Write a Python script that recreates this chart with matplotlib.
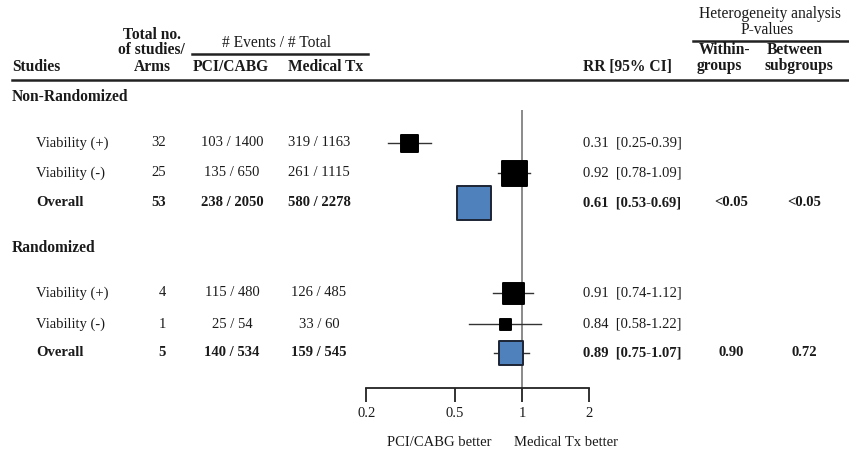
import numpy as np
import matplotlib
matplotlib.use('Agg')
import matplotlib.pyplot as plt

plt.rcParams['font.family'] = ['Liberation Serif', 'DejaVu Serif']

# data
labels = ['Viability (+)', 'Viability (-)', 'Overall',
          'Viability (+)', 'Viability (-)', 'Overall']
groups = ['Non-Randomized', 'Randomized']
n_studies = ['32', '25', '53', '4', '1', '5']
events_pci = ['103 / 1400', '135 / 650', '238 / 2050', '115 / 480', '25 / 54', '140 / 534']
events_med = ['319 / 1163', '261 / 1115', '580 / 2278', '126 / 485', '33 / 60', '159 / 545']
rr = [0.31, 0.92, 0.61, 0.91, 0.84, 0.89]
ci_lo = [0.25, 0.78, 0.53, 0.74, 0.58, 0.75]
ci_hi = [0.39, 1.09, 0.69, 1.12, 1.22, 1.07]
p_within = ['', '', '<0.05', '', '', '0.90']
p_between = ['', '', '<0.05', '', '', '0.72']
is_overall = [False, False, True, False, False, True]
xticks = [0.2, 0.5, 1, 2]

# layout (pixel rows, top = 0)
row_y = [143, 173, 203, 293, 324, 353]
group_y = [97, 248]
box_px = [17, 25, 34, 21, 11, 24]

W, H = 849, 454
fig = plt.figure(figsize=(W / 100, H / 100), dpi=100)

tab = fig.add_axes([0, 0, 1, 1])
tab.set_xlim(0, W)
tab.set_ylim(H, 0)
tab.axis('off')

txt = '#1a1a1a'
fs = 10.5   # body text
hs = 11.2   # header text

# header
tab.text(12, 67, 'Studies', fontsize=hs, fontweight='bold', va='center', color=txt)
tab.text(152, 35, 'Total no.', fontsize=hs, fontweight='bold', va='center', ha='center', color=txt)
tab.text(151, 50, 'of studies/', fontsize=hs, fontweight='bold', va='center', ha='center', color=txt)
tab.text(152, 67, 'Arms', fontsize=hs, fontweight='bold', va='center', ha='center', color=txt)
tab.text(277, 43, '# Events / # Total', fontsize=hs, va='center', ha='center', color=txt)
tab.plot([192, 368], [54, 54], color='#222222', lw=1.8)
tab.text(231, 67, 'PCI/CABG', fontsize=hs, fontweight='bold', va='center', ha='center', color=txt)
tab.text(326, 67, 'Medical Tx', fontsize=hs, fontweight='bold', va='center', ha='center', color=txt)
tab.text(583, 67, 'RR [95% CI]', fontsize=hs, fontweight='bold', va='center', ha='left', color=txt)
tab.text(770, 14, 'Heterogeneity analysis', fontsize=hs, va='center', ha='center', color=txt)
tab.text(767, 30, 'P-values', fontsize=hs, va='center', ha='center', color=txt)
tab.plot([693, W], [41, 41], color='#222222', lw=1.8)
tab.text(699, 50, 'Within-', fontsize=hs, fontweight='bold', va='center', color=txt)
tab.text(697, 66, 'groups', fontsize=hs, fontweight='bold', va='center', color=txt)
tab.text(767, 50, 'Between', fontsize=hs, fontweight='bold', va='center', color=txt)
tab.text(765, 66, 'subgroups', fontsize=hs, fontweight='bold', va='center', color=txt)
tab.plot([12, W], [80, 80], color='#222222', lw=1.8)

for g, gy in zip(groups, group_y):
    tab.text(12, gy, g, fontsize=hs, fontweight='bold', va='center', color=txt)

for i, y in enumerate(row_y):
    fw = 'bold' if is_overall[i] else 'normal'
    tab.text(36, y, labels[i], fontsize=fs, fontweight=fw, va='center', color=txt)
    tab.text(166, y, n_studies[i], fontsize=fs, fontweight=fw, va='center', ha='right', color=txt)
    tab.text(232, y, events_pci[i], fontsize=fs, fontweight=fw, va='center', ha='center', color=txt)
    tab.text(319, y, events_med[i], fontsize=fs, fontweight=fw, va='center', ha='center', color=txt)
    tab.text(583, y, '%.2f  [%.2f-%.2f]' % (rr[i], ci_lo[i], ci_hi[i]),
             fontsize=fs, fontweight=fw, va='center', color=txt)
    tab.text(731, y, p_within[i], fontsize=fs, fontweight=fw, va='center', ha='center', color=txt)
    tab.text(804, y, p_between[i], fontsize=fs, fontweight=fw, va='center', ha='center', color=txt)

tab.text(439, 443, 'PCI/CABG better', fontsize=fs, va='center', ha='center', color=txt)
tab.text(566, 443, 'Medical Tx better', fontsize=fs, va='center', ha='center', color=txt)

# forest panel
x0, x1, ytop, ybot = 330, 650, 110, 388
ppd = 223.0  # pixels per decade
ax = fig.add_axes([x0 / W, 1 - ybot / H, (x1 - x0) / W, (ybot - ytop) / H])
ax.patch.set_alpha(0)
ax.set_xscale('log')
ax.set_xlim(10 ** ((x0 - 522) / ppd), 10 ** ((x1 - 522) / ppd))
ax.set_ylim(ybot, ytop)
ax.axvline(1, color='#777777', lw=1.2, zorder=1)

for i, y in enumerate(row_y):
    ax.plot([ci_lo[i], ci_hi[i]], [y, y], color='#333333', lw=1.0, zorder=2)
    face = '#4f81bd' if is_overall[i] else 'black'
    edge = '#1c2535' if is_overall[i] else 'black'
    s = (box_px[i] * 0.72) ** 2
    ax.scatter([rr[i]], [y], marker='s', s=s, facecolor=face, edgecolor=edge,
               linewidths=1.4, zorder=3)

for sp in ['left', 'right', 'top']:
    ax.spines[sp].set_visible(False)
ax.spines['bottom'].set_bounds(0.2, 2)
ax.spines['bottom'].set_linewidth(1.3)
ax.spines['bottom'].set_color('#222222')
ax.set_yticks([])
ax.set_xticks(xticks)
ax.set_xticklabels(['0.2', '0.5', '1', '2'])
ax.minorticks_off()
ax.tick_params(axis='x', direction='out', length=10, width=1.3, color='#222222',
               labelsize=fs, labelcolor=txt, pad=4)

fig.savefig('out.png', dpi=100)
